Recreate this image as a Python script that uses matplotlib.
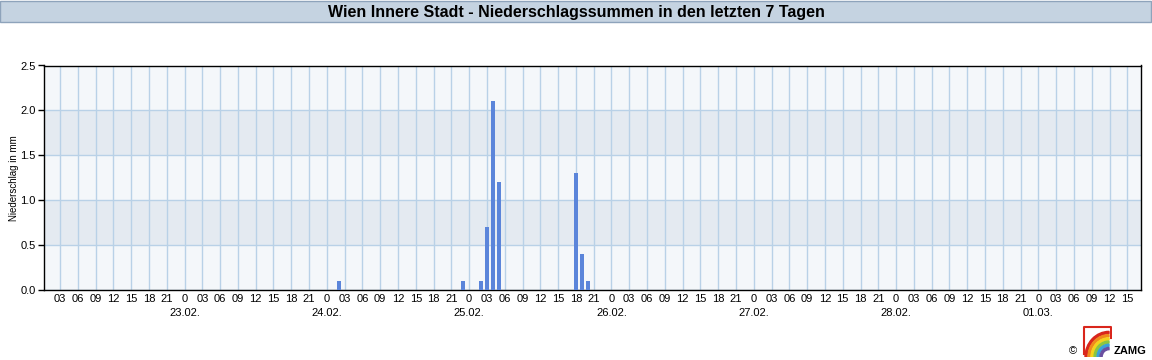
import matplotlib.pyplot as plt
import matplotlib.dates as mdates
from matplotlib.patches import Rectangle, Wedge
import pandas as pd

plt.rcParams['font.family'] = ['Liberation Sans', 'DejaVu Sans']

# hourly precipitation sums (only non-zero hours)
times = pd.to_datetime([
    '2025-02-24 02:00', '2025-02-24 23:00', '2025-02-25 02:00',
    '2025-02-25 03:00', '2025-02-25 04:00', '2025-02-25 05:00',
    '2025-02-25 18:00', '2025-02-25 19:00', '2025-02-25 20:00',
])
precip = [0.1, 0.1, 0.1, 0.7, 2.1, 1.2, 1.3, 0.4, 0.1]

x_start = pd.Timestamp('2025-02-22 00:18')
x_end = pd.Timestamp('2025-03-01 17:18')
y_ticks = [0.0, 0.5, 1.0, 1.5, 2.0, 2.5]

title = 'Wien Innere Stadt - Niederschlagssummen in den letzten 7 Tagen'
ylabel = 'Niederschlag in mm'

fig = plt.figure(figsize=(11.52, 3.6), dpi=100)

# title bar
fig.patches.append(Rectangle((0.0, 1 - 22 / 360), 0.9995, 22 / 360 - 0.002,
                             transform=fig.transFigure, facecolor='#c5d3e1',
                             edgecolor='#8ea3bb', linewidth=1.0))
fig.text(0.5, 1 - 12 / 360, title, ha='center', va='center',
         fontsize=11.5, fontweight='bold', color='black')

ax = fig.add_axes([44 / 1152, 70 / 360, 1097 / 1152, 224.5 / 360])

# alternating bands
band_colors = ['#f4f7fa', '#e4eaf1']
for i in range(len(y_ticks) - 1):
    ax.axhspan(y_ticks[i], y_ticks[i + 1], color=band_colors[i % 2], zorder=0, lw=0)

ax.bar(times, precip, width=0.7 / 24, color='#5b85da', zorder=3, align='center')

ax.set_xlim(x_start, x_end)
ax.set_ylim(0, 2.5)
ax.set_yticks(y_ticks)
ax.set_yticklabels([f'{v:.1f}' for v in y_ticks], fontsize=8)

# hours on major ticks, dates on minor ticks (at midnight)
ax.xaxis.set_major_locator(mdates.HourLocator(byhour=range(0, 24, 3)))
ax.xaxis.set_minor_locator(mdates.DayLocator())
ax.xaxis.remove_overlapping_locs = False


def fmt_hour(x, pos=None):
    d = mdates.num2date(x)
    return '0' if d.hour == 0 else d.strftime('%H')


ax.xaxis.set_major_formatter(plt.FuncFormatter(fmt_hour))
ax.xaxis.set_minor_formatter(mdates.DateFormatter('%d.%m.'))
ax.tick_params(axis='x', which='major', length=0, labelsize=8, pad=3)
ax.tick_params(axis='x', which='minor', length=0, labelsize=8, pad=13)
ax.tick_params(axis='y', length=4, width=1, labelsize=8, pad=2)

ax.grid(True, axis='both', which='major', color='#b9d1e7', linewidth=1.0, zorder=1)
ax.set_axisbelow(True)
for s in ax.spines.values():
    s.set_color('black')
    s.set_linewidth(1.0)

ax.set_ylabel(ylabel, fontsize=7, labelpad=1)

# ZAMG logo
lax = fig.add_axes([1082 / 1152, 3 / 360, 30 / 1152, 32 / 360])
lax.set_xlim(0, 1)
lax.set_ylim(0, 1)
lax.axis('off')
lax.plot([0.05, 0.05, 0.95, 0.95], [0.1, 0.95, 0.95, 0.6], color='#d9261c', lw=1.5)
rainbow = ['#d9261c', '#f08a1c', '#f5d21c', '#8cc63f', '#3aa0d8', '#6a4fa0']
for i, c in enumerate(rainbow):
    r = 0.8 - i * 0.1
    lax.add_patch(Wedge((0.9, 0.0), r, 90, 180, width=0.07, color=c))
fig.text(1073 / 1152, 9 / 360, '\u00a9', fontsize=8, ha='center', va='center')
fig.text(1114 / 1152, 9 / 360, 'ZAMG', fontsize=8, fontweight='bold', ha='left', va='center')

fig.savefig('out.png', dpi=100)
